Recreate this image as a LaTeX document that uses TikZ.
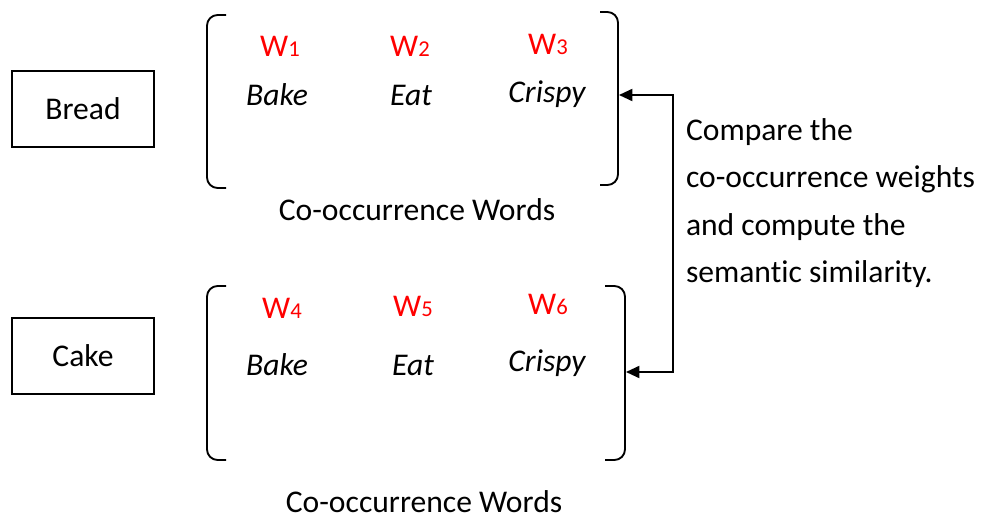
\documentclass[tikz,border=0pt]{standalone}
\usepackage{fontspec}
\setmainfont[Ligatures=NoCommon]{Carlito}
\usetikzlibrary{arrows.meta}
\begin{document}
\begin{tikzpicture}[x=0.75pt,y=-0.75pt,
  every node/.style={inner sep=0pt,outer sep=0pt},
  txt/.style={font=\fontsize{23.7}{28}\selectfont},
  itxt/.style={font=\fontsize{23.7}{28}\selectfont\itshape},
  wt/.style={font=\fontsize{23.7}{28}\selectfont,text=red},
  box/.style={draw,line width=1.4pt,minimum width=106.5pt,minimum height=57pt,font=\fontsize{23.7}{28}\selectfont},
  brk/.style={line width=1.4pt,rounded corners=8pt},
  conn/.style={line width=1.4pt,{Triangle[length=10pt,width=9pt]}-{Triangle[length=10pt,width=9pt]}}]
\useasboundingbox (0,0) rectangle (982,517);
\newcommand{\wsub}[1]{W{\fontsize{17}{20}\selectfont #1}}
% boxes
\node[box] (bread) at (83,109) {Bread};
\node[box] (cake) at (83,356) {Cake};
% top brackets
\draw[brk] (226,15) -- (207,15) -- (207,188) -- (226,188);
\draw[brk] (600,12) -- (618,12) -- (618,185) -- (600,185);
% bottom brackets
\draw[brk] (226,286) -- (207,286) -- (207,460) -- (226,460);
\draw[brk] (605,286) -- (625,286) -- (625,460) -- (605,460);
\coordinate (ta) at (619,95);
\coordinate (ba) at (626,372);
\coordinate (k1) at (673,95);
\coordinate (k2) at (673,372);
% weights
\node[wt] (w1) at (280,46) {\wsub{1}};
\node[wt] (w2) at (410,46) {\wsub{2}};
\node[wt] (w3) at (548,44) {\wsub{3}};
\node[wt] (w4) at (282,308) {\wsub{4}};
\node[wt] (w5) at (413,306) {\wsub{5}};
\node[wt] (w6) at (548,304) {\wsub{6}};
% words
\node[itxt] (b1) at (277,95) {Bake};
\node[itxt] (e1) at (411,95) {Eat};
\node[itxt] (c1) at (547,94) {Crispy};
\node[itxt] (b2) at (277,365) {Bake};
\node[itxt] (e2) at (413,365) {Eat};
\node[itxt] (c2) at (547,363) {Crispy};
\node[txt] (cw1) at (417,210) {Co-occurrence Words};
\node[txt] (cw2) at (424,502) {Co-occurrence Words};
% description
\node[txt,anchor=west,align=left] (desc) at (686,203) {Compare the\\[7.5pt]co-occurrence weights\\[7.5pt]and compute the\\[7.5pt]semantic similarity.};
% connector
\draw[conn] (ta) -- (k1) -- (k2) -- (ba);
\end{tikzpicture}
\end{document}
